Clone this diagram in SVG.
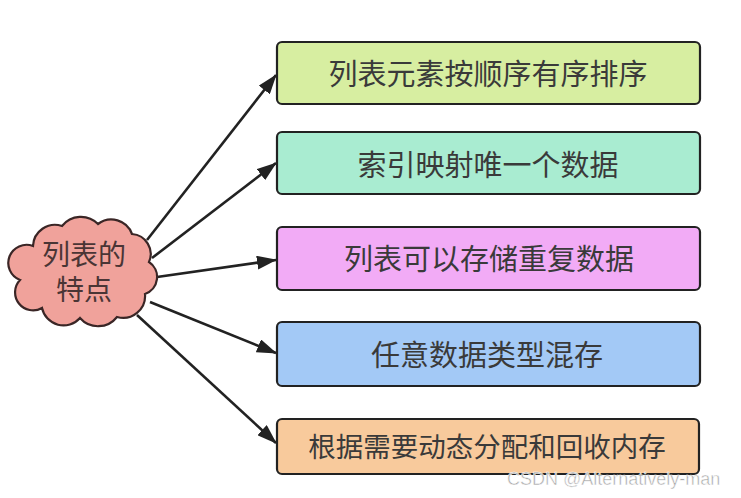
<svg xmlns="http://www.w3.org/2000/svg" width="741" height="498" viewBox="0 0 741 498">
<defs>
<style>
.box{stroke:#222;stroke-width:2.2}
.t{font-family:"Liberation Sans","Noto Sans CJK SC",sans-serif;font-size:29px;fill:#3a3a3a;text-anchor:middle}
.c{stroke:#222;stroke-width:2.6;fill:none}
.wm{font-family:"Liberation Sans",Arial,sans-serif;font-size:18px;fill:#a8a8a8;stroke:#fff;stroke-width:0.5}
</style>
<marker id="ah" markerUnits="userSpaceOnUse" markerWidth="20" markerHeight="14" refX="19" refY="7" orient="auto">
<path d="M0,0 L20,7 L0,14 z" fill="#222"/>
</marker>
</defs>
<rect width="741" height="498" fill="#fff"/>
<g id="connectors">
<line class="c" x1="147" y1="240" x2="276" y2="75" marker-end="url(#ah)"/>
<line class="c" x1="152" y1="258" x2="276" y2="163" marker-end="url(#ah)"/>
<line class="c" x1="150" y1="278" x2="276" y2="260" marker-end="url(#ah)"/>
<line class="c" x1="150" y1="302" x2="276" y2="353" marker-end="url(#ah)"/>
<line class="c" x1="137" y1="315" x2="276" y2="443" marker-end="url(#ah)"/>
</g>
<g id="cloud">
<path d="M33,246 A22,22 0 0 1 62,226 A24,24 0 0 1 98,224 A22,22 0 0 1 132,234 A20,20 0 0 1 149,262 A18,18 0 0 1 145,294 A22,22 0 0 1 117,317 A24,24 0 0 1 80,318 A22,22 0 0 1 42,308 A18,18 0 0 1 20,280 A18,18 0 0 1 33,246 Z" fill="#f0a29b" stroke="#3a2626" stroke-width="2.2"/>
<text class="t" x="84" y="265" style="font-size:28px;fill:#4a3535">列表的</text>
<text class="t" x="84" y="300" style="font-size:28px;fill:#4a3535">特点</text>
</g>
<g id="n1">
<rect class="box" x="277" y="42" width="423" height="62" rx="5" fill="#d7eea1"/>
<text class="t" x="488" y="85">列表元素按顺序有序排序</text>
</g>
<g id="n2">
<rect class="box" x="277" y="132" width="423" height="62" rx="5" fill="#a9ecd1"/>
<text class="t" x="488" y="176">索引映射唯一个数据</text>
</g>
<g id="n3">
<rect class="box" x="277" y="227" width="423" height="63" rx="5" fill="#f2abf6"/>
<text class="t" x="489" y="270">列表可以存储重复数据</text>
</g>
<g id="n4">
<rect class="box" x="277" y="322" width="423" height="64" rx="5" fill="#a3c9f6"/>
<text class="t" x="487" y="366">任意数据类型混存</text>
</g>
<g id="n5">
<rect class="box" x="277" y="419" width="422" height="55" rx="5" fill="#f8ca9c"/>
<text class="t" x="487" y="457" style="font-size:27.5px">根据需要动态分配和回收内存</text>
</g>
<text class="wm" x="507" y="485">CSDN @Alternatively-man</text>
</svg>
